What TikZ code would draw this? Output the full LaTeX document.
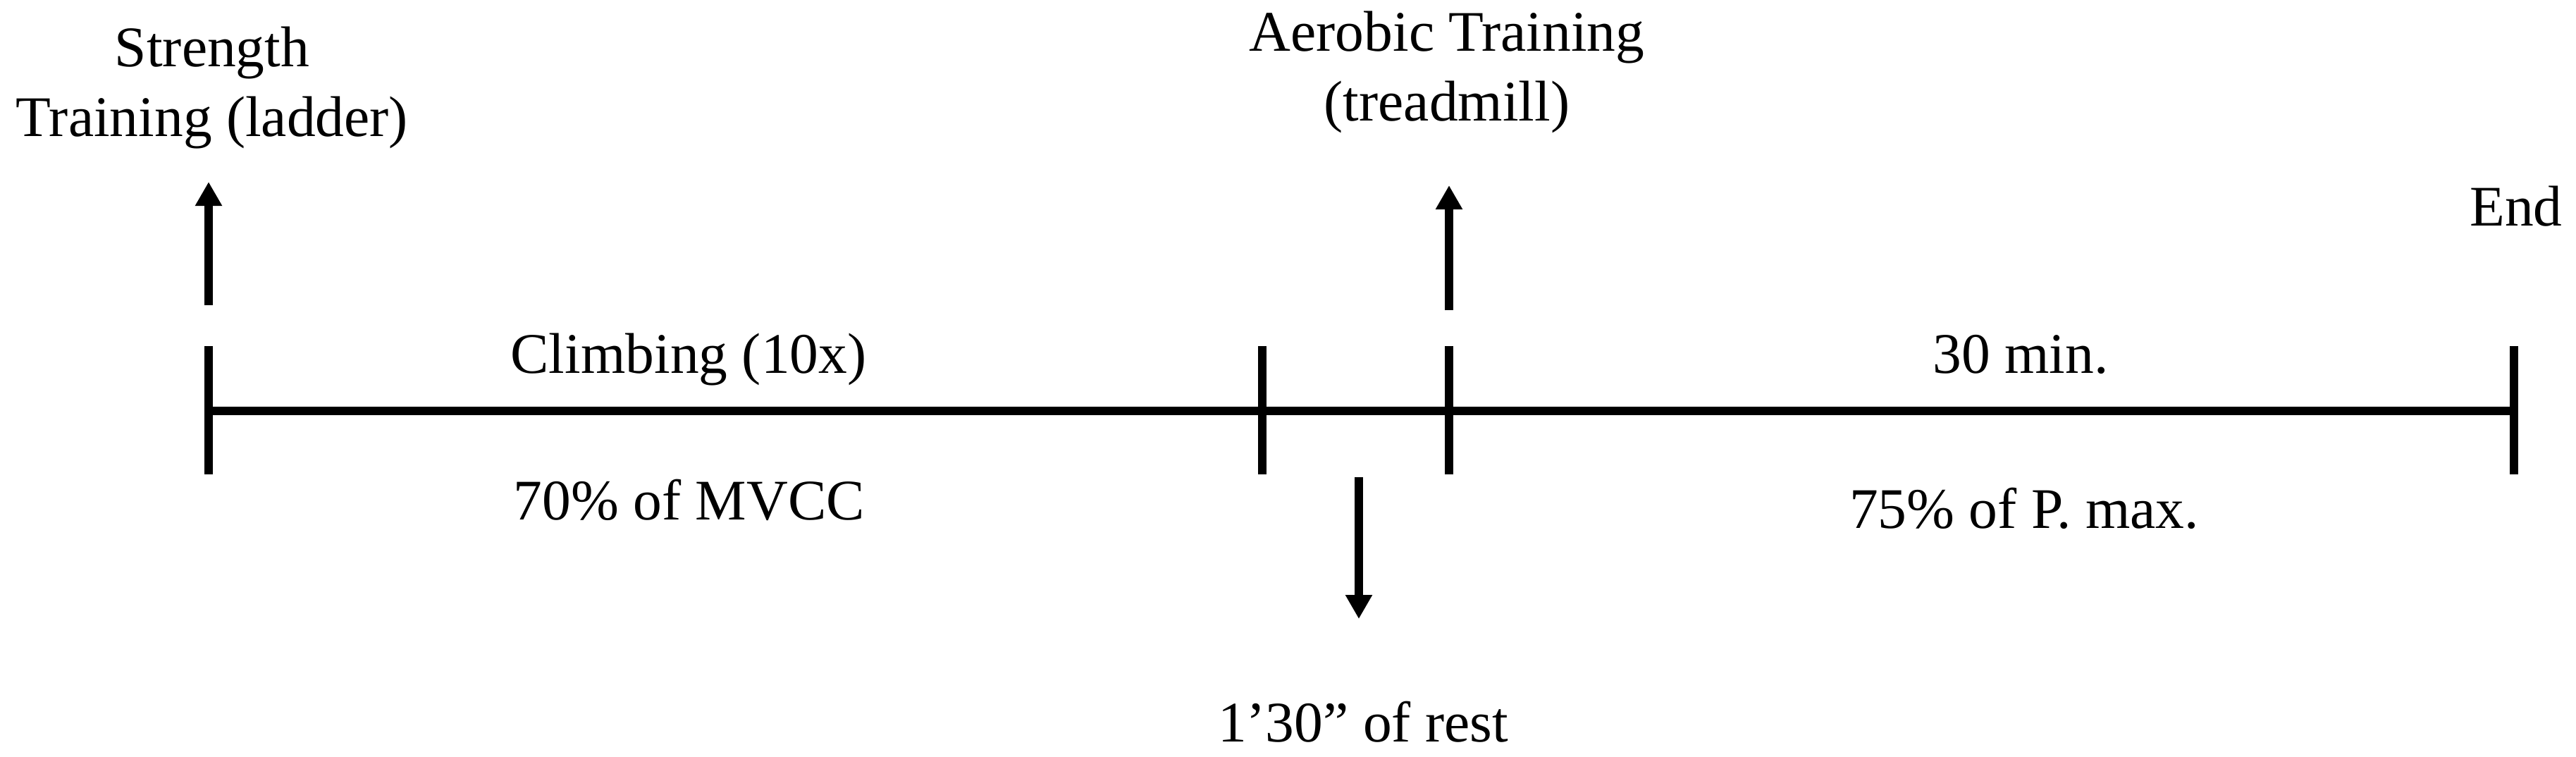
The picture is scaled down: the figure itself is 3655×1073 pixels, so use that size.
\documentclass[tikz,border=0pt]{standalone}
\usepackage{fontspec}
\setmainfont{Liberation Serif}
\usetikzlibrary{arrows.meta}
\begin{document}
\begin{tikzpicture}[x=0.1pt,y=-0.1pt,
  axisline/.style={line width=1.2pt,black},
  tickline/.style={line width=1.2pt,black},
  evarrow/.style={line width=1.2pt,-{Triangle[length=3.4pt,width=3.6pt]}},
  lbl/.style={inner sep=0pt,anchor=base,align=center,font=\fontsize{8.15}{9.9}\selectfont}]
\useasboundingbox (0,0) rectangle (3655,1073);
% tick coordinates
\coordinate (t1) at (296,583);
\coordinate (t2) at (1791,583);
\coordinate (t3) at (2056,583);
\coordinate (t4) at (3567,583);
\coordinate (t1a) at (296,491);  \coordinate (t1b) at (296,673);
\coordinate (t2a) at (1791,491); \coordinate (t2b) at (1791,673);
\coordinate (t3a) at (2056,491); \coordinate (t3b) at (2056,673);
\coordinate (t4a) at (3567,491); \coordinate (t4b) at (3567,673);
% main timeline
\draw[axisline] (t1) -- (t4);
\draw[tickline] (t1a) -- (t1b);
\draw[tickline] (t2a) -- (t2b);
\draw[tickline] (t3a) -- (t3b);
\draw[tickline] (t4a) -- (t4b);
% arrows
\coordinate (a1s) at (296,433);  \coordinate (a1e) at (296,258);
\coordinate (a2s) at (2056,440); \coordinate (a2e) at (2056,263);
\coordinate (a3s) at (1928,677); \coordinate (a3e) at (1928,878);
\draw[evarrow] (a1s) -- (a1e);
\draw[evarrow] (a2s) -- (a2e);
\draw[evarrow] (a3s) -- (a3e);
% labels (base anchor = baseline of the last line)
\node[lbl] (strength) at (301,193) {Strength\\Training (ladder)};
\node[lbl] (aerobic) at (2053,171) {Aerobic Training\\(treadmill)};
\node[lbl] (endlbl) at (3570,320) {End};
\node[lbl] (climb) at (977,529) {Climbing (10x)};
\node[lbl] (mvcc) at (978,737) {70\% of MVCC};
\node[lbl] (thirty) at (2867,529) {30 min.};
\node[lbl] (pmax) at (2872,749) {75\% of P. max.};
\node[lbl] (rest) at (1934,1052) {1’30” of rest};
\end{tikzpicture}
\end{document}
